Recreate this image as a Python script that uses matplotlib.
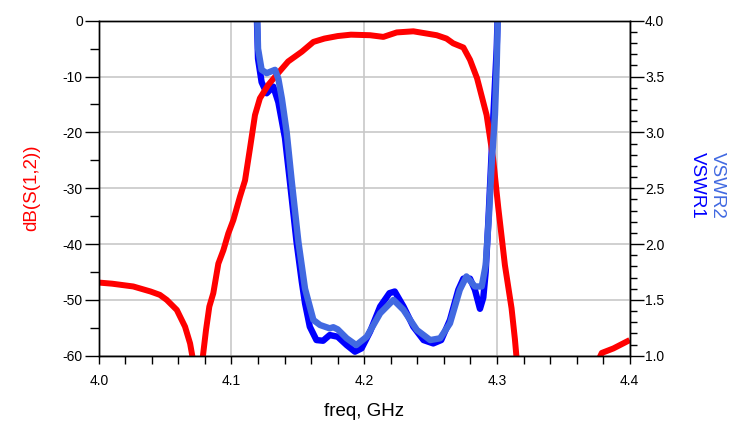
"""Filter response: dB(S(1,2)) on the left axis, VSWR1/VSWR2 on the right."""

import numpy as np
import matplotlib
matplotlib.use("Agg")
import matplotlib.pyplot as plt
from matplotlib.ticker import MultipleLocator, FormatStrFormatter

plt.rcParams["font.family"] = ["Liberation Sans", "DejaVu Sans"]
plt.rcParams["axes.unicode_minus"] = False

nan = np.nan

# dB(S(1,2)), gaps where the trace leaves the -60 dB floor
s12_freq = [4.000, 4.010, 4.026, 4.039, 4.046, 4.0512, 4.0588, 4.065, 4.0688, 4.0712, nan,
            4.0780, 4.0808, 4.0833, 4.0863, 4.0901, 4.0939, 4.0976, 4.1014, 4.1064, 4.1102,
            4.1139, 4.1177, 4.1214, 4.1277, 4.134, 4.1427, 4.153, 4.1617, 4.170, 4.180,
            4.190, 4.2044, 4.2144, 4.2245, 4.237, 4.2546, 4.262, 4.267, 4.2747, 4.2797,
            4.285, 4.2922, 4.297, 4.301, 4.306, 4.311, 4.3135, 4.3150, nan,
            4.3760, 4.3790, 4.3877, 4.400]
s12_db = [-46.9, -47.1, -47.6, -48.5, -49.1, -50.0, -51.8, -54.8, -57.8, -61, nan,
          -61, -55.4, -51.2, -48.8, -43.5, -41.1, -38.1, -35.7, -31.5, -28.6,
          -22.9, -16.9, -13.9, -11.5, -9.7, -7.3, -5.55, -3.8, -3.2, -2.75,
          -2.5, -2.6, -2.9, -2.1, -1.9, -2.6, -3.2, -4.05, -4.8, -7.0,
          -10.3, -16.9, -24.5, -33.5, -43.8, -51.5, -57.0, -61, nan,
          -61, -59.5, -58.7, -57.2]

vswr1_freq = [4.1185, 4.1200, 4.1227, 4.1265, 4.1315, 4.1353, 4.1403, 4.144, 4.149, 4.153,
              4.1554, 4.159, 4.164, 4.169, 4.174, 4.180, 4.1868, 4.193, 4.198, 4.2044,
              4.212, 4.219, 4.223, 4.2296, 4.237, 4.2447, 4.252, 4.258, 4.2646, 4.2709,
              4.2747, 4.2797, 4.2834, 4.2872, 4.2897, 4.2915, 4.2935, 4.2955, 4.2975,
              4.2998, 4.3012]
vswr1 = [4.3, 3.66, 3.45, 3.35, 3.41, 3.27, 2.95, 2.56, 2.02, 1.66,
         1.47, 1.26, 1.14, 1.134, 1.185, 1.17, 1.095, 1.036, 1.066, 1.215,
         1.44, 1.56, 1.575, 1.44, 1.26, 1.14, 1.11, 1.14, 1.32, 1.59,
         1.69, 1.69, 1.59, 1.42, 1.52, 1.75, 2.2, 2.7, 3.2,
         3.75, 4.3]

vswr2_freq = [4.1188, 4.1200, 4.1227, 4.1265, 4.1328, 4.1353, 4.138, 4.1416, 4.1454, 4.1504,
              4.1554, 4.1617, 4.1667, 4.174, 4.1767, 4.180, 4.1868, 4.194, 4.2019, 4.212,
              4.222, 4.2296, 4.2397, 4.2497, 4.2572, 4.2646, 4.272, 4.277, 4.2834, 4.2885,
              4.2915, 4.294, 4.296, 4.2985, 4.2998, 4.3012]
vswr2 = [4.3, 3.75, 3.56, 3.53, 3.56, 3.48, 3.30, 3.0, 2.56, 2.02,
         1.60, 1.32, 1.275, 1.245, 1.255, 1.236, 1.156, 1.095, 1.17, 1.38,
         1.50, 1.41, 1.23, 1.14, 1.156, 1.29, 1.59, 1.71, 1.62, 1.62,
         1.81, 2.26, 2.71, 3.16, 3.6, 4.3]

RED = "#ff0000"
BLUE = "#0000ff"
LIGHT_BLUE = "#4169e1"
GRID = "#c8c8c8"

fig = plt.figure(figsize=(7.37, 4.34), dpi=100)
ax = fig.add_axes([0.134, 0.1804, 0.7204, 0.7719])
ax2 = ax.twinx()

ax.set_xlim(4.0, 4.4)
ax.set_ylim(-60, 0)
ax2.set_ylim(1.0, 4.0)

# all traces on the left axes so the red one can sit between the two VSWR traces
ax.plot(vswr1_freq, vswr1, color=BLUE, lw=4.6, transform=ax2.transData, zorder=2.0,
        solid_capstyle="butt", solid_joinstyle="round")
ax.plot(s12_freq, s12_db, color=RED, lw=4.3, zorder=2.1, solid_capstyle="butt",
        solid_joinstyle="round")
ax.plot(vswr2_freq, vswr2, color=LIGHT_BLUE, lw=4.6, transform=ax2.transData, zorder=2.2,
        solid_capstyle="butt", solid_joinstyle="round")

ax.xaxis.set_major_locator(MultipleLocator(0.1))
ax.xaxis.set_minor_locator(MultipleLocator(0.02))
ax.xaxis.set_major_formatter(FormatStrFormatter("%.1f"))
ax.yaxis.set_major_locator(MultipleLocator(10))
ax.yaxis.set_minor_locator(MultipleLocator(5))
ax2.yaxis.set_major_locator(MultipleLocator(0.5))
ax2.yaxis.set_minor_locator(MultipleLocator(0.1))
ax2.yaxis.set_major_formatter(FormatStrFormatter("%.1f"))

ax.grid(True, which="major", color=GRID, lw=1.2)
ax.set_axisbelow(True)

ax.tick_params(axis="x", which="both", direction="out", length=5.5, width=1,
               labelsize=10, pad=8, top=False)
ax.tick_params(axis="y", which="major", direction="out", length=10, width=1,
               labelsize=10, pad=1.5, right=False)
ax.tick_params(axis="y", which="minor", direction="out", length=6.3, width=1, right=False)
ax2.tick_params(axis="y", which="major", direction="out", length=10, width=1,
                labelsize=10, pad=1)
ax2.tick_params(axis="y", which="minor", direction="out", length=5, width=1)

for a in (ax, ax2):
    for sp in a.spines.values():
        sp.set_linewidth(1)
        sp.set_color("black")

fig.text(364 / 737, 1 - 411 / 434, "freq, GHz", ha="center", va="center", fontsize=13.5)
fig.text(32 / 737, 1 - 188 / 434, "dB(S(1,2))", ha="center", va="center",
         rotation=90, fontsize=13.5, color=RED)
fig.text(717 / 737, 1 - 185 / 434, "VSWR2", ha="center", va="center",
         rotation=270, fontsize=13.5, color=LIGHT_BLUE)
fig.text(697 / 737, 1 - 185 / 434, "VSWR1", ha="center", va="center",
         rotation=270, fontsize=13.5, color=BLUE)

fig.savefig("out.png", dpi=100)
plt.close(fig)
